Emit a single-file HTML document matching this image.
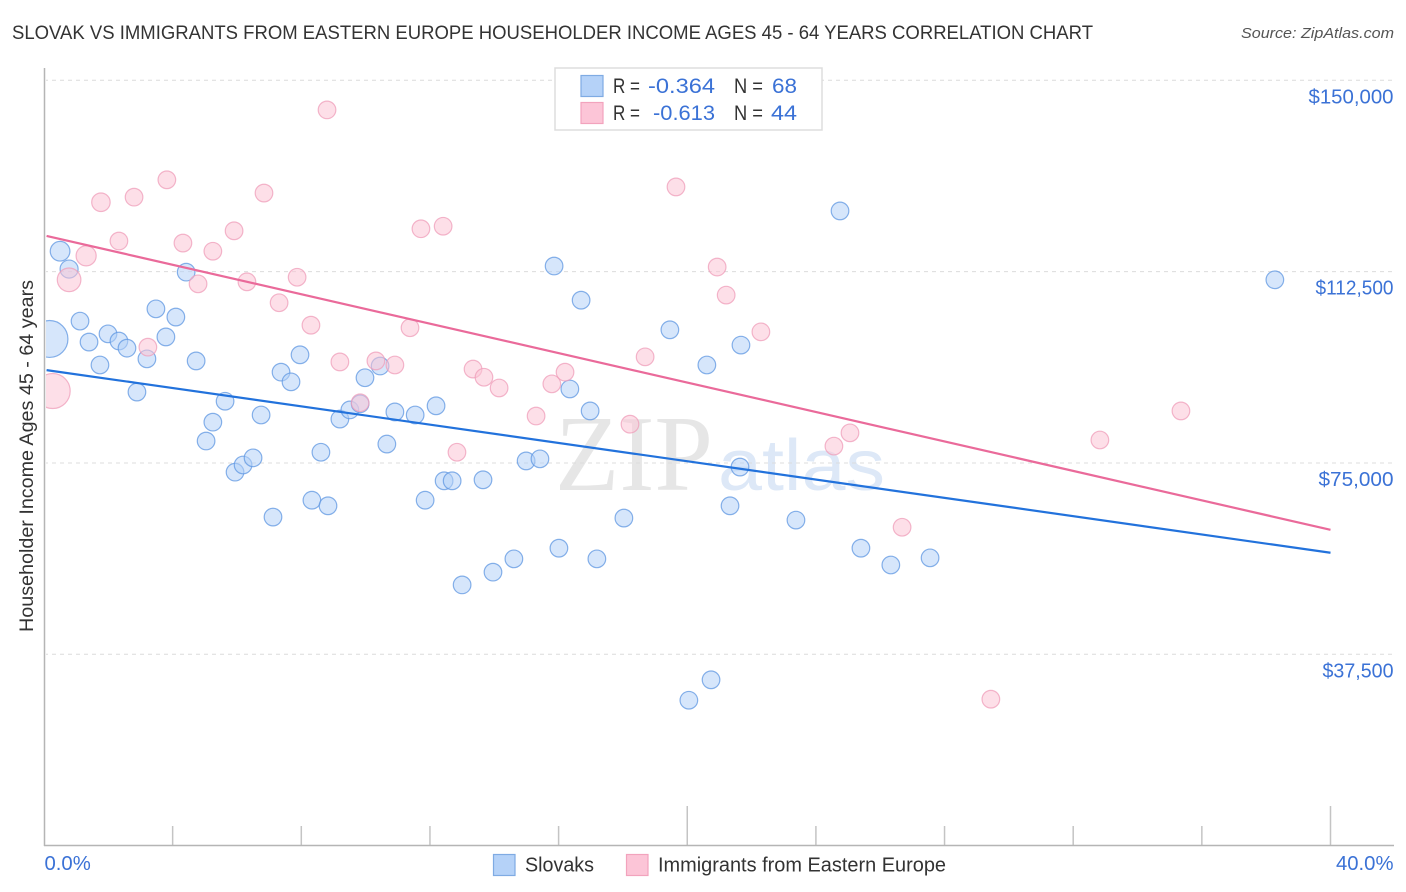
<!DOCTYPE html>
<html lang="en">
<head>
<meta charset="utf-8">
<title>Slovak vs Immigrants from Eastern Europe Householder Income Correlation Chart</title>
<style>
html,body{margin:0;padding:0;background:#fff;width:1406px;height:892px;overflow:hidden}
svg{display:block;font-family:"Liberation Sans",sans-serif}
</style>
</head>
<body>
<svg id="chart" xmlns="http://www.w3.org/2000/svg" width="1406" height="892" viewBox="0 0 1406 892">
  <text x="12" y="39" font-size="19" fill="#333" textLength="1081" lengthAdjust="spacingAndGlyphs">SLOVAK VS IMMIGRANTS FROM EASTERN EUROPE HOUSEHOLDER INCOME AGES 45 - 64 YEARS CORRELATION CHART</text>
  <text x="1241" y="38" font-size="15" font-style="italic" fill="#555" textLength="153" lengthAdjust="spacingAndGlyphs">Source: ZipAtlas.com</text>
  <g>
    <text x="555" y="490" font-family="'Liberation Serif',serif" font-size="108" fill="#e6e6e6" textLength="158" lengthAdjust="spacingAndGlyphs">ZIP</text>
    <text x="718" y="490" font-size="72" fill="#dde8f7" textLength="167" lengthAdjust="spacingAndGlyphs">atlas</text>
  </g>
  <g id="grid"></g>
  <g id="axes"></g>
  <g id="marks"></g>
  <rect x="0" y="60" width="46" height="780" fill="#fff"/>
  <text transform="translate(33,632) rotate(-90)" font-size="19" fill="#333" textLength="352" lengthAdjust="spacingAndGlyphs">Householder Income Ages 45 - 64 years</text>
  <g id="axis-top"></g>
  <g>
    <rect x="555" y="68" width="267" height="62" fill="#fff" stroke="#ddd" stroke-width="1.5"/>
    <rect x="581" y="75.5" width="22" height="21" fill="#b5d2f8" stroke="#7fabe3" stroke-width="1.2"/>
    <rect x="581" y="102.5" width="22" height="21" fill="#fcc5d7" stroke="#f2a3bd" stroke-width="1.2"/>
    <g font-size="21.5" fill="#333">
      <text x="613" y="93" textLength="27" lengthAdjust="spacingAndGlyphs">R =</text>
      <text x="734" y="93" textLength="29" lengthAdjust="spacingAndGlyphs">N =</text>
      <text x="613" y="120" textLength="27" lengthAdjust="spacingAndGlyphs">R =</text>
      <text x="734" y="120" textLength="29" lengthAdjust="spacingAndGlyphs">N =</text>
    </g>
    <g font-size="21.5" fill="#3b72d6">
      <text x="648" y="93" textLength="67" lengthAdjust="spacingAndGlyphs">-0.364</text>
      <text x="772" y="93" textLength="25" lengthAdjust="spacingAndGlyphs">68</text>
      <text x="653" y="120" textLength="62" lengthAdjust="spacingAndGlyphs">-0.613</text>
      <text x="771" y="120" textLength="26" lengthAdjust="spacingAndGlyphs">44</text>
    </g>
  </g>
  <g>
    <rect x="493.5" y="854.5" width="21.5" height="21" fill="#b5d2f8" stroke="#7fabe3" stroke-width="1.2"/>
    <text x="525" y="871.5" font-size="20" fill="#333" textLength="69" lengthAdjust="spacingAndGlyphs">Slovaks</text>
    <rect x="626.5" y="854.5" width="21.5" height="21" fill="#fcc5d7" stroke="#f2a3bd" stroke-width="1.2"/>
    <text x="658" y="871.5" font-size="20" fill="#333" textLength="288" lengthAdjust="spacingAndGlyphs">Immigrants from Eastern Europe</text>
  </g>
</svg>
<script>
const yTickValues = [150, 112.5, 75, 37.5];
const yTickLabels = ["$150,000", "$112,500", "$75,000", "$37,500"];
const xTickValues = [0, 4, 8, 12, 16, 20, 24, 28, 32, 36, 40];
const xEndLabels = ["0.0%", "40.0%"];

const slovakShare = [0.17,0.50,0.78,1.12,1.40,1.74,1.99,2.33,2.58,2.89,3.20,3.48,3.79,4.10,4.42,4.73,5.04,5.25,5.63,5.94,6.19,6.50,6.75,7.12,7.37,7.68,7.96,8.33,8.61,8.83,9.20,9.51,9.83,9.98,10.45,10.66,10.91,11.54,11.85,12.19,12.44,12.69,13.00,13.65,13.96,14.61,14.99,15.42,15.86,16.01,16.35,16.70,16.98,17.19,18.03,19.46,20.05,20.61,20.74,21.33,21.64,21.67,23.38,24.75,25.40,26.33,27.55,38.27];
const slovakIncome = [99.3,116.5,113.0,102.8,98.7,94.2,100.3,98.9,97.5,88.9,95.4,105.2,99.7,103.6,112.4,95.0,79.3,83.0,87.1,73.2,74.6,76.0,84.4,64.4,92.8,90.9,96.2,67.7,77.1,66.6,83.6,85.4,86.6,91.7,94.0,78.7,85.0,84.4,67.7,86.2,71.5,71.5,51.1,71.7,53.6,56.2,75.4,75.8,113.6,58.3,89.5,106.9,85.2,56.2,64.2,101.1,28.5,94.2,32.5,66.6,74.2,98.1,63.8,124.4,58.3,55.0,56.4,110.9];
const slovakWeightOverrides = {0: 4.4, 1: 1.25, 2: 1.05};

const immigrantShare = [0.27,0.78,1.31,1.77,2.33,2.80,3.23,3.82,4.32,4.79,5.25,5.91,6.31,6.84,7.31,7.87,8.30,8.80,9.20,9.83,10.32,10.91,11.38,11.72,12.41,12.84,13.34,13.68,14.15,15.30,15.79,16.20,18.22,18.69,19.65,20.93,21.21,22.29,24.56,25.06,26.68,29.44,32.83,35.35];
const immigrantIncome = [89.1,110.9,115.6,126.1,118.5,127.1,97.7,130.5,118.1,110.1,116.5,120.5,110.5,127.9,106.4,111.4,102.0,144.2,94.8,86.8,95.0,94.2,101.5,120.9,121.4,77.1,93.4,91.8,89.7,84.2,90.5,92.8,82.6,95.8,129.1,113.4,107.9,100.7,78.3,80.9,62.4,28.7,79.5,85.2];
const immigrantWeightOverrides = {0: 3.95, 1: 1.8, 2: 1.3, 3: 1.1};

const slovakTrendEnds = [93.2, 57.4];
const immigrantTrendEnds = [119.5, 61.9];
const trendShareEnds = [0.08, 40];

const SVGNS = "http://www.w3.org/2000/svg";
const tickLabelFit = {"$150,000": 85, "$112,500": 78, "$75,000": 75, "$37,500": 71};
function xPx(share) { return 44 + share * 32.1625; }
function yPx(income) { return 80.3 + (150 - income) * 5.1022; }
function radius(weight) { return 8.8 * Math.sqrt(weight); }
function make(tag, attrs, parent) {
  const el = document.createElementNS(SVGNS, tag);
  for (const k in attrs) el.setAttribute(k, attrs[k]);
  parent.appendChild(el);
  return el;
}

const grid = document.getElementById("grid");
const axes = document.getElementById("axes");
const axisTop = document.getElementById("axis-top");
const marks = document.getElementById("marks");

yTickValues.forEach(function (v, i) {
  const line = make("line", {x1: 44, x2: 1393, y1: yPx(v), y2: yPx(v), stroke: "#dcdcdc", "stroke-width": 1, "stroke-dasharray": "4 4"}, grid);
  
  
  const text = yTickLabels[i];
  const fit = tickLabelFit[text] || 80;
  const label = make("text", {x: 1393.5 - fit, y: yPx(v) + 23, "font-size": 20.3, fill: "#3b72d6", textLength: fit, lengthAdjust: "spacingAndGlyphs"}, axes);
  
  
  label.textContent = text;
});

const yAxisLine = make("line", {x1: 44.5, x2: 44.5, y1: 68, y2: 846, stroke: "#b5b5b5", "stroke-width": 1.5}, axisTop);


const xAxisLine = make("line", {x1: 44, x2: 1394, y1: 845.5, y2: 845.5, stroke: "#b5b5b5", "stroke-width": 1.5}, axisTop);



xTickValues.forEach(function (v, i) {
  const major = i % 5 === 0;
  if (i === 0) return;
  const tick = make("line", {x1: xPx(v), x2: xPx(v), y1: major ? 806 : 826, y2: 845, stroke: "#c4c4c4", "stroke-width": 1.5}, axes);
  
  
});

const xStart = make("text", {x: 44.5, y: 870, "font-size": 20.3, fill: "#3b72d6"}, axes);


xStart.textContent = xEndLabels[0];
const xEnd = make("text", {x: 1393.5, y: 870, "font-size": 20.3, fill: "#3b72d6", "text-anchor": "end"}, axes);


xEnd.textContent = xEndLabels[1];

function drawPoints(xs, ys, overrides, fill, stroke, name) {
  xs.forEach(function (x, i) {
    const w = overrides[i] || 1;
    const c = make("circle", {cx: xPx(x), cy: yPx(ys[i]), r: radius(w), fill: fill, "fill-opacity": 0.55, stroke: stroke, "stroke-opacity": 0.75, "stroke-width": 1.2}, marks);
    
    
  });
}
drawPoints(slovakShare, slovakIncome, slovakWeightOverrides, "#b5d2f8", "#5f97e2", "slovak-point");
drawPoints(immigrantShare, immigrantIncome, immigrantWeightOverrides, "#fbc4d6", "#ef9db9", "immigrant-point");

const slovakLine = make("line", {x1: xPx(trendShareEnds[0]), x2: xPx(trendShareEnds[1]), y1: yPx(slovakTrendEnds[0]), y2: yPx(slovakTrendEnds[1]), stroke: "#2272dc", "stroke-width": 2.2}, marks);


const immigrantLine = make("line", {x1: xPx(trendShareEnds[0]), x2: xPx(trendShareEnds[1]), y1: yPx(immigrantTrendEnds[0]), y2: yPx(immigrantTrendEnds[1]), stroke: "#ea6a9a", "stroke-width": 2.2}, marks);


</script>
</body>
</html>
